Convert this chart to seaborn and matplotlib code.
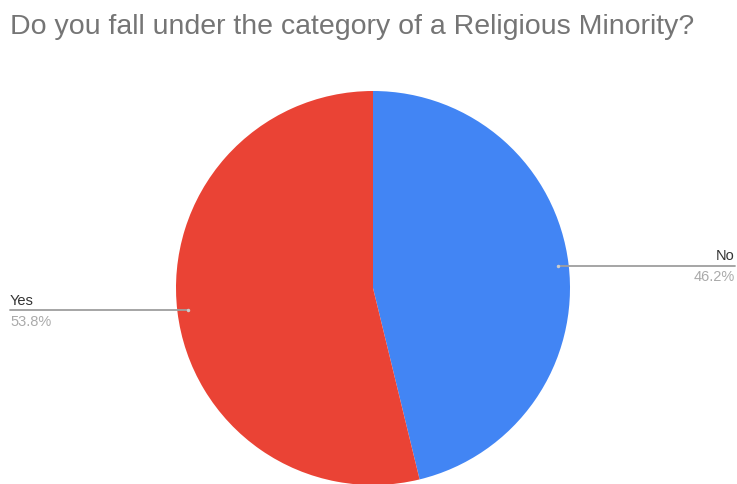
import numpy as np
import matplotlib
matplotlib.use("Agg")
import matplotlib.pyplot as plt
import seaborn as sns

# Survey answers
categories = ["No", "Yes"]
shares = [46.2, 53.8]
colors = ["#4285f4", "#ea4335"]

sns.set_theme(style="white")
plt.rcParams["font.family"] = ["Liberation Sans", "DejaVu Sans"]

W, H = 737, 485
fig = plt.figure(figsize=(W / 100, H / 100), dpi=100)
ax = fig.add_axes([0, 0, 1, 1])
ax.set_xlim(0, W)
ax.set_ylim(H, 0)
ax.set_aspect("equal")
ax.axis("off")

cx, cy, r = 373, 289, 197
wedges, _ = ax.pie(shares, colors=sns.color_palette(colors), startangle=90,
                   counterclock=False, center=(cx, cy), radius=r,
                   wedgeprops=dict(linewidth=0))
# y axis is inverted, so mirror wedges to keep clockwise order from top
for w in wedges:
    w.set_transform(matplotlib.transforms.Affine2D().translate(-cx, -cy)
                    .scale(1, -1).translate(cx, cy) + ax.transData)

ax.set_xlim(0, W)
ax.set_ylim(H, 0)

for name, val, w in zip(categories, shares, wedges):
    ang = np.deg2rad((w.theta1 + w.theta2) / 2)
    px = cx + 0.945 * r * np.cos(ang)
    py = cy - 0.945 * r * np.sin(ang)
    if np.cos(ang) >= 0:
        x_end, ha, tx = 735, "right", 735
    else:
        x_end, ha, tx = 10, "left", 10
    ax.plot([px, x_end], [py, py], color="#9e9e9e", lw=1.3)
    ax.plot([px], [py], marker="o", ms=2.5, color="#cccccc", mec="none")
    ax.text(tx, py - 3.5, name, ha=ha, va="bottom", fontsize=10.5, color="#333333")
    ax.text(tx, py + 3.5, f"{val:.1f}%", ha=ha, va="top", fontsize=10.5, color="#aaaaaa")

ax.text(10, 34, "Do you fall under the category of a Religious Minority?",
        ha="left", va="baseline", fontsize=20.5, color="#757575")

fig.savefig("out.png", dpi=100)
